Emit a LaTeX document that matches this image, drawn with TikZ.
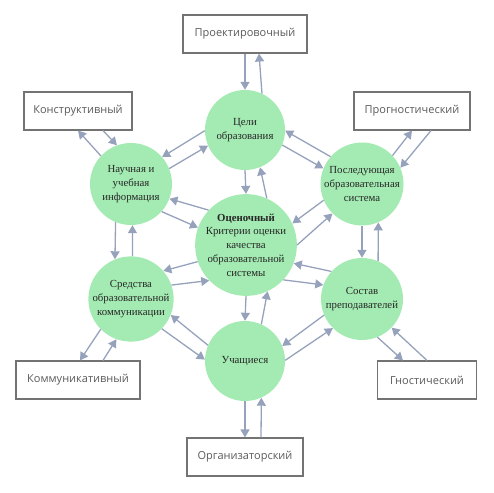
\documentclass[tikz,border=0pt]{standalone}
\usepackage{fontspec}
\setmainfont{Liberation Serif}
\newfontfamily\boxfont{Open Sans}
\usepackage{xcolor}
\definecolor{hgreen}{RGB}{163,235,178}
\definecolor{hblue}{RGB}{150,162,188}
\definecolor{hgrey}{RGB}{115,115,115}
\definecolor{htext}{RGB}{90,90,90}
\usetikzlibrary{arrows.meta}
\tikzset{
  circ/.style={circle, fill=hgreen, inner sep=0pt, minimum size=80pt, align=center,
    font=\fontsize{10.8}{13.8}\selectfont, text=black!85},
  lbox/.style={draw=hgrey, line width=1.1pt, fill=white, minimum height=38pt,
    font=\boxfont\fontsize{11}{13}\selectfont, text=htext},
  arr/.style={hblue, line width=1.3pt, -{Triangle[length=8pt,width=9pt]}},
}

\begin{document}
\begin{tikzpicture}[x=1pt,y=-1pt]
\useasboundingbox (0,0) rectangle (494,492);
% circles
\node[circ] (celi) at (245,130) {Цели\\образования};
\node[circ, minimum size=82pt] (nauch) at (131,184) {Научная и\\учебная\\информация};
\node[circ, minimum size=82pt] (posl) at (362,184) {Последующая\\образовательная\\система};
\node[circ, minimum size=100pt] (ocen) at (246,245) {\textbf{Оценочный}\\Критерии оценки\\качества\\образовательной\\системы};
\node[circ] (sred) at (131,299) {Средства\\образовательной\\коммуникации};
\node[circ, minimum size=82pt] (sost) at (362,299) {Состав\\преподавателей};
\node[circ] (uch) at (245,361) {Учащиеся};
% boxes
\node[lbox, minimum width=124pt] (proekt) at (245,34) {Проектировочный};
\node[lbox, minimum width=108pt] (konstr) at (78,111) {Конструктивный};
\node[lbox, minimum width=116pt] (progn) at (412,111) {Прогностический};
\node[lbox, minimum width=124pt] (kommun) at (78,380) {Коммуникативный};
\node[lbox, minimum width=99pt] (gnost) at (427,380) {Гностический};
\node[lbox, minimum width=116pt] (organ) at (245,457) {Организаторский};
% arrows
\draw[arr] (proekt.south) -- (celi.north);
\draw[arr] (celi.65) -- ([xshift=14pt]proekt.south);
\draw[arr] (nauch.137) -- (konstr.south);
\draw[arr] ([xshift=25pt]konstr.south) -- (nauch.110);
\draw[arr] (celi.181) -- (nauch.41);
\draw[arr] (nauch.22) -- (celi.203);
\draw[arr] (posl.139) -- (celi.-1);
\draw[arr] (celi.-22) -- (posl.158);
\draw[arr] (posl.43) -- (progn.south);
\draw[arr] ([xshift=19pt]progn.south) -- (posl.23);
\draw[arr] (celi.south) -- (ocen.north);
\draw[arr] (ocen.66) -- (celi.292);
\draw[arr] (ocen.137) -- (nauch.-21);
\draw[arr] (nauch.-42) -- (ocen.160);
\draw[arr] (posl.203) -- (ocen.25);
\draw[arr] (ocen.0) -- (posl.225);
\draw[arr] (nauch.248) -- (sred.112);
\draw[arr] (sred.88) -- (nauch.272);
\draw[arr] (posl.south) -- (sost.north);
\draw[arr] (sost.67) -- (posl.293);
\draw[arr] (ocen.199) -- (sred.41);
\draw[arr] (sred.19) -- (ocen.224);
\draw[arr] (sost.138) -- (ocen.-21);
\draw[arr] (ocen.-43) -- (sost.160);
\draw[arr] (ocen.south) -- (uch.north);
\draw[arr] (uch.66) -- (ocen.295);
\draw[arr] (sred.225) -- ([xshift=2pt]kommun.north);
\draw[arr] ([xshift=25pt]kommun.north) -- (sred.250);
\draw[arr] (uch.157) -- (sred.-22);
\draw[arr] (sred.-44) -- (uch.178);
\draw[arr] (sost.203) -- (uch.22);
\draw[arr] (uch.1) -- (sost.225);
\draw[arr] (sost.-68) -- ([xshift=-24pt]gnost.north);
\draw[arr] (gnost.north) -- (sost.-44);
\draw[arr] (uch.south) -- (organ.north);
\draw[arr] ([xshift=16pt]organ.north) -- (uch.-66);
\end{tikzpicture}
\end{document}
